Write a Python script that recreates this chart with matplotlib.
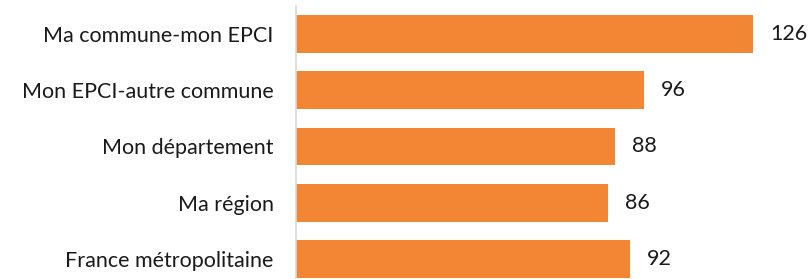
import matplotlib
matplotlib.use('Agg')
import matplotlib.pyplot as plt

# Données
categories = ['Ma commune-mon EPCI', 'Mon EPCI-autre commune', 'Mon département',
              'Ma région', 'France métropolitaine']
values = [126, 96, 88, 86, 92]

BAR_COLOR = '#F38634'
AXIS_COLOR = '#D9D9D9'
TEXT_COLOR = '#1A1A1A'
FONT_SIZE = 15.5

plt.rcParams['font.family'] = ['Lato', 'DejaVu Sans']

fig = plt.figure(figsize=(8.1, 2.79), dpi=100)
ax = fig.add_axes([296 / 810, 0, 1 - 296 / 810, 1 - 6 / 279])

pos = list(range(len(categories)))
ax.barh(pos, values, height=0.67, color=BAR_COLOR)

ax.set_ylim(-0.5 + 273 / 56.2, -0.5)
ax.set_xlim(0, 514 / 3.627)

ax.set_yticks(pos)
ax.set_yticklabels(categories, fontsize=FONT_SIZE, color=TEXT_COLOR)
ax.tick_params(axis='y', length=0, pad=16)
ax.set_xticks([])

for s in ['top', 'right', 'bottom']:
    ax.spines[s].set_visible(False)
ax.spines['left'].set_color(AXIS_COLOR)
ax.spines['left'].set_linewidth(1.2)

# Étiquettes de valeurs
for p, v in zip(pos, values):
    ax.annotate(str(v), xy=(v, p), xytext=(17, 0), textcoords='offset pixels',
                va='center', ha='left', fontsize=FONT_SIZE, color=TEXT_COLOR)

plt.savefig('out.png', dpi=100, facecolor='white')
plt.close()
